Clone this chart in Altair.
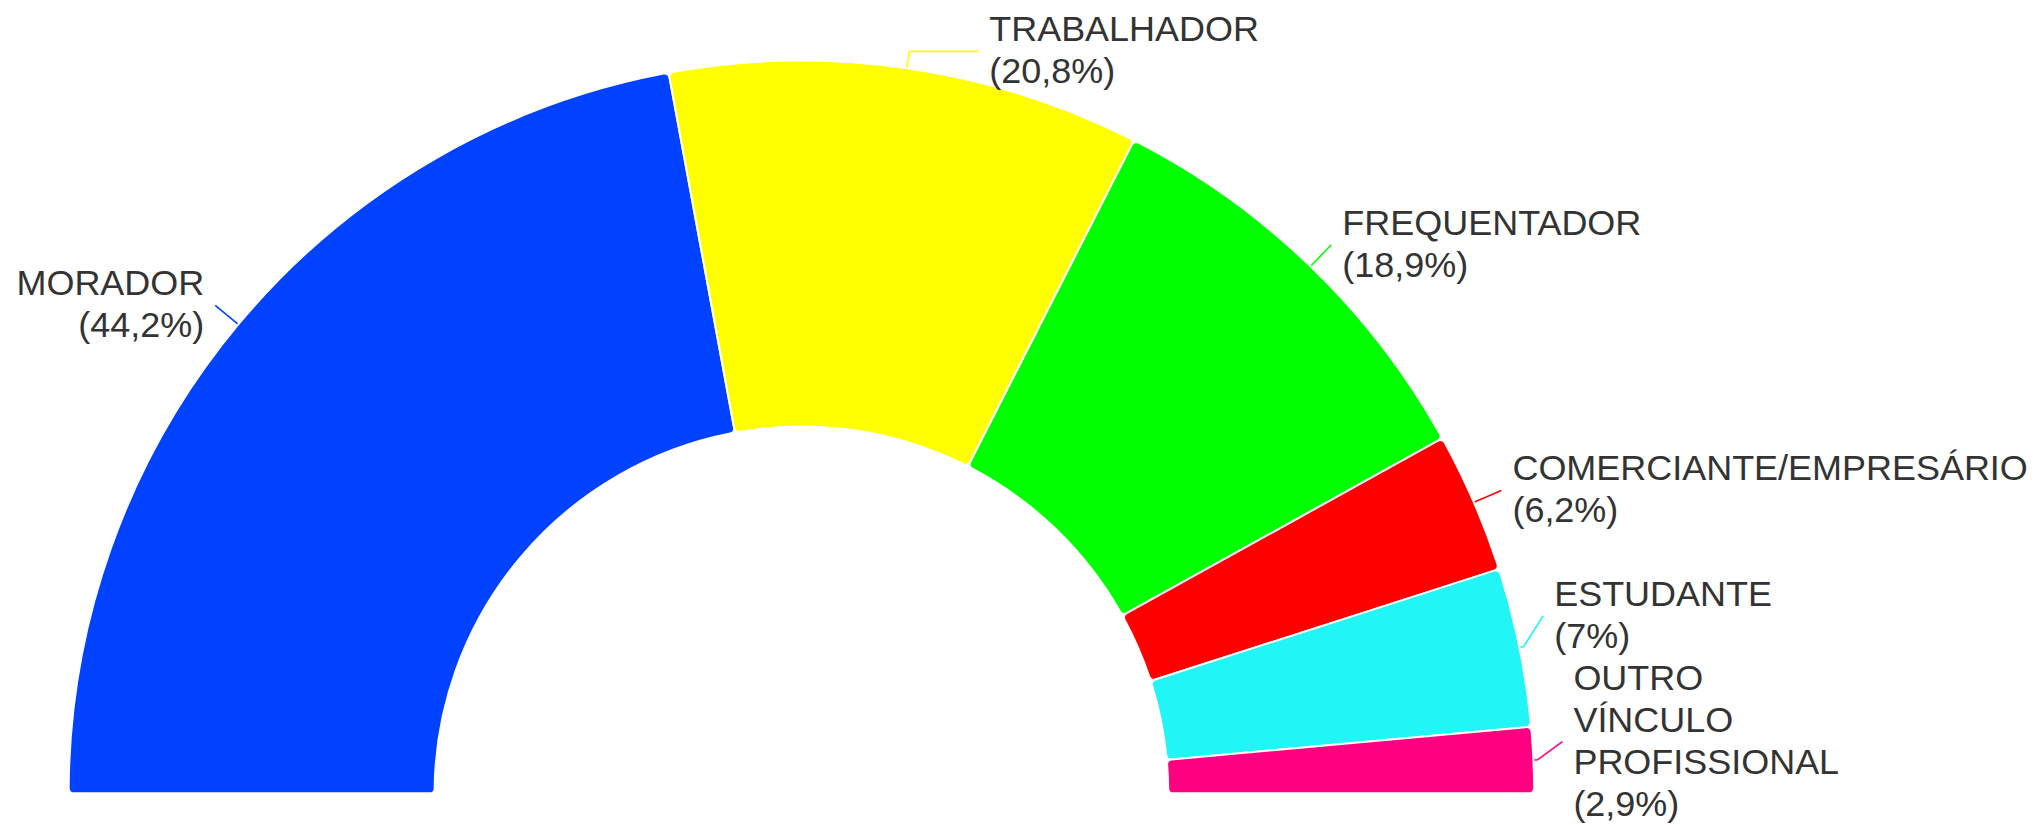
import math
import altair as alt
import pandas as pd

# ---- data ----
categorias = [
    "MORADOR",
    "TRABALHADOR",
    "FREQUENTADOR",
    "COMERCIANTE/EMPRESÁRIO",
    "ESTUDANTE",
    "OUTRO VÍNCULO PROFISSIONAL",
]
valores = [44.2, 20.8, 18.9, 6.2, 7, 2.9]
cores = ["#0042FF", "#FFFF00", "#00FF00", "#FF0000", "#22F5F5", "#FF0080"]

# ---- layout constants ----
W, H = 2020, 817
CX, CY = 794.2, 785.7
R_OUT, R_IN = 733.5, 367.2
LEN1 = 30
RB = R_OUT + LEN1
LH = 42
FS = 36
TOP, BOTTOM = 1, 818
GAP = 11
FONT = "Liberation Sans"

total = sum(valores)
df = pd.DataFrame({"categoria": categorias, "valor": valores, "ordem": list(range(len(categorias)))})

xs = alt.Scale(domain=[0, W], nice=False, zero=False)
ys = alt.Scale(domain=[0, H], nice=False, zero=False, reverse=True)
color = alt.Color("categoria:N", scale=alt.Scale(domain=categorias, range=cores), legend=None)

base = alt.Chart(df).transform_window(
    c1="sum(valor)", sort=[alt.SortField("ordem")], frame=[None, 0]
).transform_calculate(
    c0="datum.c1 - datum.valor",
    tm=f"PI*((datum.c1 - datum.valor/2)/{total} - 0.5)",
)

arcs = base.mark_arc(
    outerRadius=R_OUT, innerRadius=R_IN, cornerRadius=5, stroke="white", strokeWidth=2
).encode(
    theta=alt.Theta("c0:Q", scale=alt.Scale(domain=[0, total], range=[-math.pi / 2, math.pi / 2]), stack=None),
    theta2="c1:Q",
    x=alt.value(CX),
    y=alt.value(CY),
    color=color,
)

lab = base.transform_calculate(
    dir="sin(datum.tm) >= 0 ? 1 : -1",
    label="split(datum.categoria + ' (' + replace(toString(datum.valor), '.', ',') + '%)', ' ')",
).transform_calculate(
    h=f"length(datum.label) * {LH}",
    yn=f"{CY} - {RB}*cos(datum.tm)",
).transform_window(
    Cinc="sum(h)", h0="first_value(h)", groupby=["dir"], sort=[alt.SortField("yn")], frame=[None, 0]
).transform_joinaggregate(
    Htot="sum(h)", groupby=["dir"]
).transform_calculate(
    S="datum.Cinc - datum.h/2 - datum.h0/2"
).transform_calculate(
    a="datum.yn - datum.S"
).transform_window(
    amax="max(a)", groupby=["dir"], sort=[alt.SortField("yn")], frame=[None, 0]
).transform_calculate(
    ya=f"datum.S + max({TOP} + datum.h0/2, datum.amax)"
).transform_calculate(
    b="datum.ya - datum.S"
).transform_window(
    bmin="min(b)", groupby=["dir"], sort=[alt.SortField("yn")], frame=[0, None]
).transform_calculate(
    yl=f"datum.S + min({BOTTOM} - datum.Htot + datum.h0/2, datum.bmin)"
).transform_calculate(
    xl=f"{CX} + datum.dir*sqrt(max(0, {RB}*{RB} - pow({CY} - datum.yl, 2)))",
    x0=f"{CX} + {R_OUT}*sin(datum.tm)",
    y0=f"{CY} - {R_OUT}*cos(datum.tm)",
    dray=f"({CY} - datum.yl)/cos(datum.tm)",
    ty=f"datum.yl - (length(datum.label) - 1)*{LH}/2",
).transform_calculate(
    xr=f"{CX} + datum.dray*sin(datum.tm)",
).transform_calculate(
    ok=f"datum.dray >= {R_OUT} && datum.dir*(datum.xl - datum.xr) >= -0.5",
    up="datum.yl < datum.yn - 0.5",
).transform_calculate(
    px1="datum.ok ? datum.xr : (datum.up ? datum.x0 + datum.dir*4 : datum.xl)",
    py1="datum.ok ? datum.yl : (datum.up ? datum.y0 : datum.yl)",
    tx=f"datum.xl + datum.dir*{GAP}",
)

seg1 = lab.mark_rule(strokeWidth=1.6).encode(
    x=alt.X("x0:Q", scale=xs, axis=None),
    y=alt.Y("y0:Q", scale=ys, axis=None),
    x2="px1:Q",
    y2="py1:Q",
    color=color,
)
seg2 = lab.mark_rule(strokeWidth=1.6).encode(
    x=alt.X("px1:Q", scale=xs, axis=None),
    y=alt.Y("py1:Q", scale=ys, axis=None),
    x2="xl:Q",
    y2="yl:Q",
    color=color,
)

text_style = dict(baseline="middle", font=FONT, fontSize=FS, lineHeight=LH, color="#333333")
text_r = lab.transform_filter("datum.dir > 0").mark_text(align="left", **text_style).encode(
    x=alt.X("tx:Q", scale=xs, axis=None),
    y=alt.Y("ty:Q", scale=ys, axis=None),
    text="label:N",
)
text_l = lab.transform_filter("datum.dir < 0").mark_text(align="right", **text_style).encode(
    x=alt.X("tx:Q", scale=xs, axis=None),
    y=alt.Y("ty:Q", scale=ys, axis=None),
    text="label:N",
)

chart = alt.layer(seg1, seg2, arcs, text_r, text_l).properties(
    width=W, height=H, padding=0, background="white"
).configure_view(stroke=None)

chart.save("out.html", embed_options={"renderer": "svg", "actions": False})
